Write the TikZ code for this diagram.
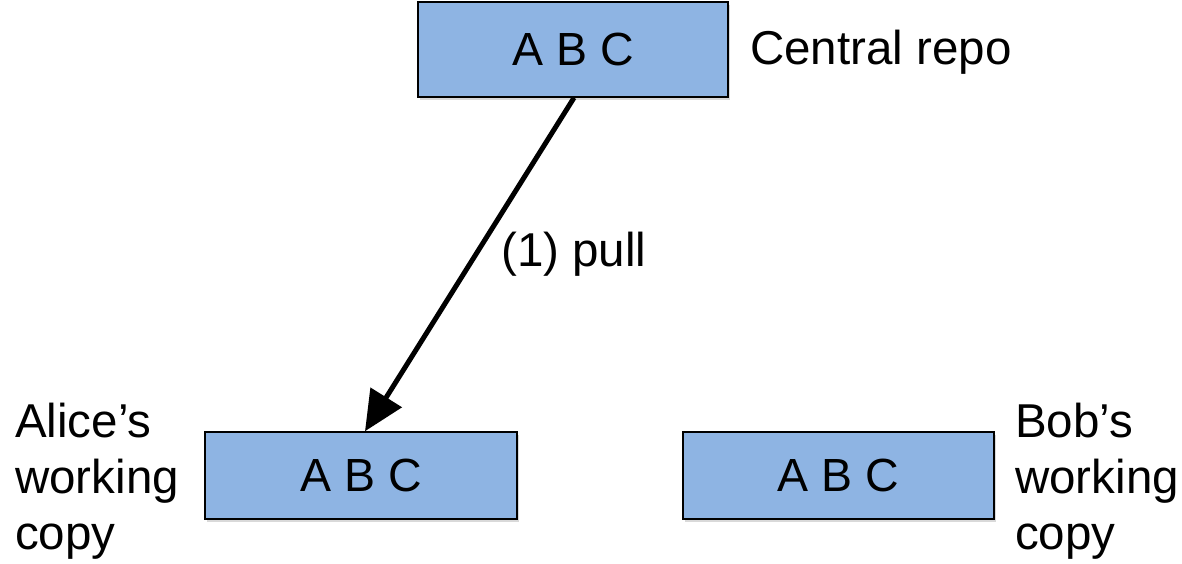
\documentclass[tikz,border=0pt]{standalone}
\usepackage{fontspec}
\setmainfont{Liberation Sans}
\usepackage{xcolor}
\usetikzlibrary{arrows.meta, shadows, positioning}
\definecolor{repoblue}{RGB}{142,180,227}
\tikzset{>=latex}

\begin{document}
\begin{tikzpicture}[
        x=1pt, y=-1pt,
        repobox/.style={
            draw=black,
            line width=1.5pt,
            fill=repoblue,
            inner sep=0pt,
            drop shadow={shadow xshift=2pt, shadow yshift=-3pt, opacity=0.3},
            font=\fontsize{46.5}{55}\selectfont,
        },
        sidetext/.style={
            inner sep=0pt,
            align=left,
            font=\fontsize{47.5}{56}\selectfont,
        },
    ]
        \useasboundingbox (0,0) rectangle (1182,563);

        % central repository
        \node[repobox, minimum width=310pt, minimum height=95pt] (central) at (573,49.5) {A B C};
        \node[sidetext, anchor=base west] (centrallabel) at (750,64) {Central repo};

        % working copies
        \node[repobox, minimum width=312pt, minimum height=87pt] (alice) at (361,475.5) {A B C};
        \node[repobox, minimum width=311pt, minimum height=87pt] (bob) at (838.5,475.5) {A B C};

        \node[sidetext, anchor=north west] (alicelabel) at (15,403) {Alice’s\\working\\copy};
        \node[sidetext, anchor=north west] (boblabel) at (1015,403) {Bob’s\\working\\copy};

        % pull
        \draw[
            line width=5pt,
            -{Triangle[length=40pt, width=36pt]},
        ] ([xshift=1pt]central.south) -- ([xshift=4pt]alice.north)
            node[midway, anchor=west, xshift=26pt, yshift=10pt, font=\fontsize{47.5}{56}\selectfont] (pulllabel) {(1) pull};
    \end{tikzpicture}
\end{document}
